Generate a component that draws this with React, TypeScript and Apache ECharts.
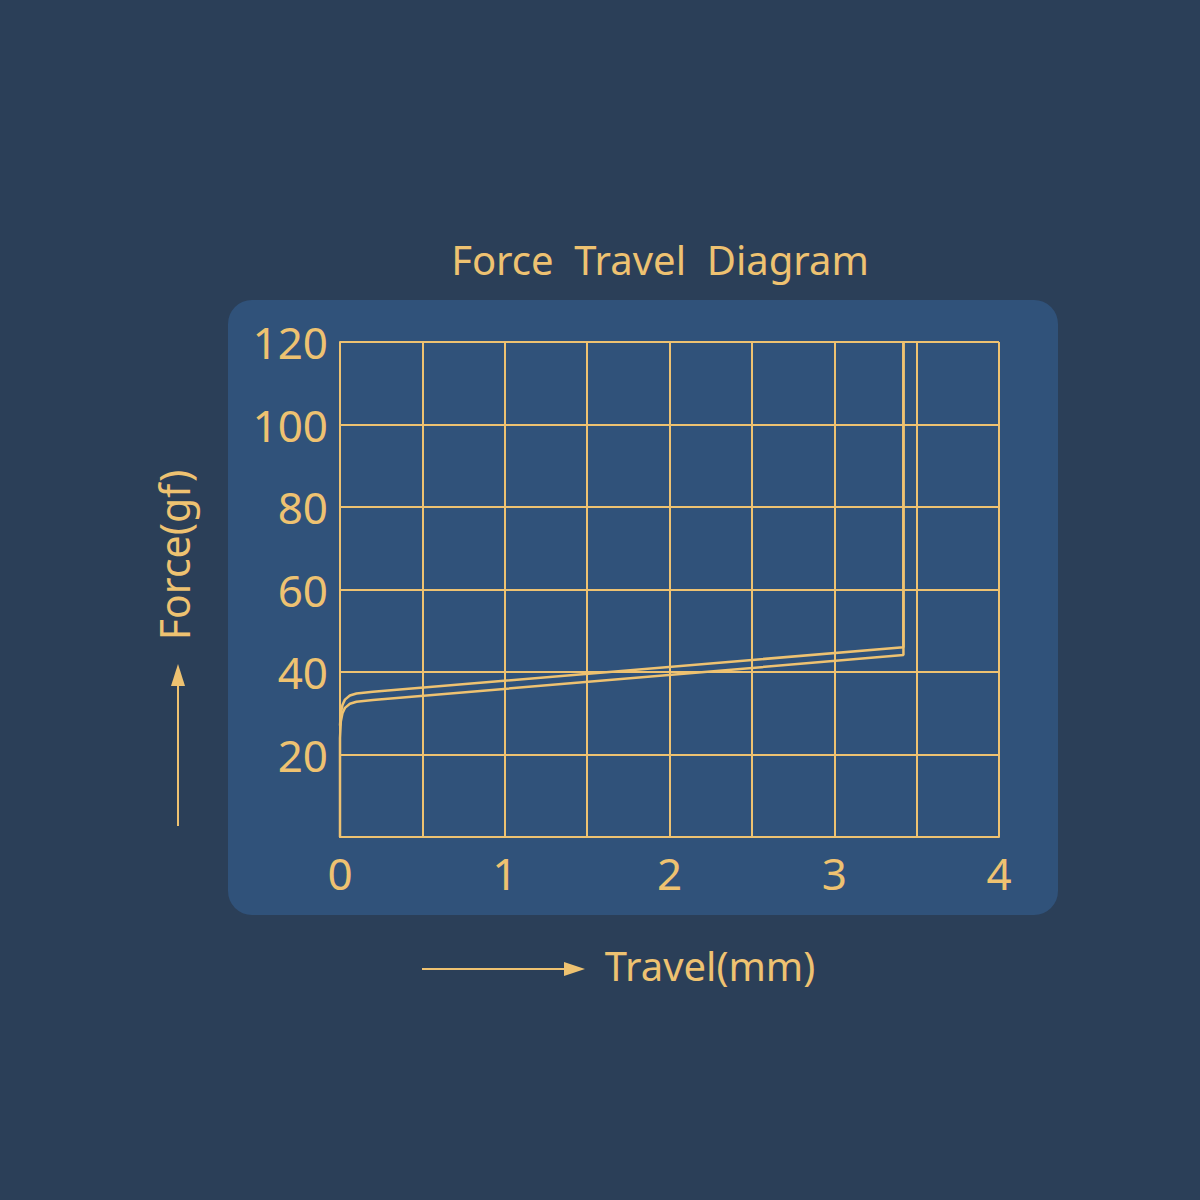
import { useEffect, useRef } from 'react';
import * as echarts from 'echarts';

const gold = '#eec271';
const bgColor = '#2b3f58';
const panelColor = '#30527a';

// travel (mm), force (gf)
const pressCurve: [number, number][] = [
  [0, 0], [0, 24], [0.005, 28], [0.015, 30], [0.03, 31.3], [0.06, 32.3],
  [0.1, 32.8], [0.2, 33.2], [3.42, 44.1], [3.42, 120],
];
const releaseCurve: [number, number][] = [
  [0, 27], [0.005, 30], [0.015, 32], [0.03, 33.3], [0.06, 34.3],
  [0.1, 34.8], [0.2, 35.2], [3.42, 46], [3.42, 120],
];
const xTicks = ['0', '1', '2', '3', '4'];
const yTicks = ['20', '40', '60', '80', '100', '120'];

export default function App() {
  const chartRef = useRef<HTMLDivElement>(null);

  useEffect(() => {
    if (!chartRef.current) return;
    const chart = echarts.init(chartRef.current, undefined, { renderer: 'svg' });
    const font = '"Noto Sans", sans-serif';

    const option: echarts.EChartsOption = {
      animation: false,
      backgroundColor: bgColor,
      title: {
        text: 'Force  Travel  Diagram',
        left: 655,
        top: 234,
        textAlign: 'center',
        textStyle: { color: gold, fontSize: 40, fontWeight: 'normal', fontFamily: font },
      },
      grid: { left: 340, right: 201, top: 342, bottom: 363 },
      xAxis: {
        type: 'value',
        min: 0,
        max: 4,
        interval: 0.5,
        axisLine: { show: true, lineStyle: { color: gold, width: 2 } },
        axisTick: { show: false },
        splitLine: { show: true, lineStyle: { color: gold, width: 2 } },
        axisLabel: {
          color: gold,
          fontSize: 44,
          fontFamily: font,
          margin: 14,
          formatter: (v: number) => (Number.isInteger(v) && xTicks.includes(String(v)) ? String(v) : ''),
        },
      },
      yAxis: {
        type: 'value',
        min: 0,
        max: 120,
        interval: 20,
        axisLine: { show: true, lineStyle: { color: gold, width: 2 } },
        axisTick: { show: false },
        splitLine: { show: true, lineStyle: { color: gold, width: 2 } },
        axisLabel: {
          color: gold,
          fontSize: 44,
          fontFamily: font,
          margin: 12,
          formatter: (v: number) => (yTicks.includes(String(v)) ? String(v) : ''),
        },
      },
      graphic: [
        {
          type: 'rect',
          z: -10,
          shape: { x: 228, y: 300, width: 830, height: 615, r: 24 },
          style: { fill: panelColor },
        },
        {
          type: 'text',
          x: 174,
          y: 555,
          rotation: Math.PI / 2,
          style: {
            text: 'Force(gf)',
            fill: gold,
            fontSize: 41,
            fontFamily: font,
            align: 'center',
            verticalAlign: 'middle',
          },
        },
        {
          type: 'line',
          shape: { x1: 178, y1: 826, x2: 178, y2: 682 },
          style: { stroke: gold, lineWidth: 2 },
        },
        {
          type: 'polygon',
          shape: { points: [[178, 664], [171, 686], [185, 686]] },
          style: { fill: gold },
        },
        {
          type: 'text',
          x: 710,
          y: 965,
          style: {
            text: 'Travel(mm)',
            fill: gold,
            fontSize: 40,
            fontFamily: font,
            align: 'center',
            verticalAlign: 'middle',
          },
        },
        {
          type: 'line',
          shape: { x1: 422, y1: 969, x2: 568, y2: 969 },
          style: { stroke: gold, lineWidth: 2 },
        },
        {
          type: 'polygon',
          shape: { points: [[585, 969], [564, 962], [564, 976]] },
          style: { fill: gold },
        },
      ],
      series: [
        {
          type: 'line',
          data: pressCurve,
          showSymbol: false,
          lineStyle: { color: gold, width: 2.5 },
        },
        {
          type: 'line',
          data: releaseCurve,
          showSymbol: false,
          lineStyle: { color: gold, width: 2.5 },
        },
      ],
    };

    chart.setOption(option);
    return () => chart.dispose();
  }, []);

  return (
    <div
      ref={chartRef}
      style={{ position: 'absolute', left: 0, top: 0, width: 1200, height: 1200 }}
    />
  );
}
